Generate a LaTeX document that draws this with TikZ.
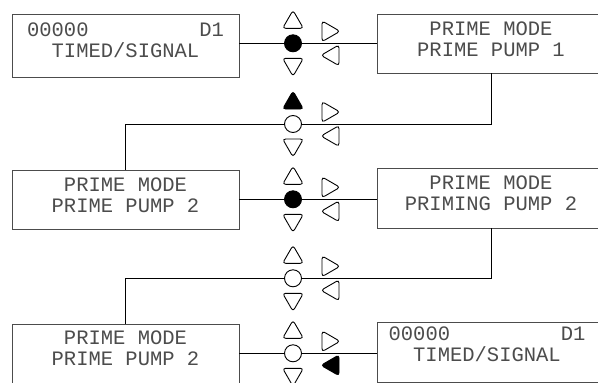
\documentclass[tikz,border=0pt]{standalone}
\usepackage{fontspec}
\setmonofont{Liberation Mono}
\usetikzlibrary{shapes.geometric}

\begin{document}
\begin{tikzpicture}[x=1pt, y=-1pt,
    lcd/.style={draw=black!70, line width=0.8pt, minimum width=227pt, minimum height=#1, inner sep=0pt},
    lcd/.default=59pt,
    lcdtext/.style={font=\ttfamily\fontsize{20.5}{21}\selectfont, text=black!70, align=center, inner sep=0pt},
    key/.style={draw, line width=0.9pt, regular polygon, regular polygon sides=3, minimum size=24pt, inner sep=0pt, rounded corners=3pt},
    sel/.style={draw, line width=0.9pt, circle, minimum size=17pt, inner sep=0pt},
    wire/.style={line width=0.8pt}]
    \useasboundingbox (0,0) rectangle (598,383);
    \clip (0,0) rectangle (598,383);

    % displays
    \node[lcd=63pt] (disp1) at (125.5,45.5) {};
    \node[lcdtext] (txt1) at (125.5,40) {\makebox[9.6em]{00000\hfill D1}\\TIMED/SIGNAL};
    \node[lcd] (disp2) at (491,43.5) {};
    \node[lcdtext] (txt2) at (491,39.3) {PRIME MODE\\PRIME PUMP 1};
    \node[lcd] (disp3) at (125.5,199.5) {};
    \node[lcdtext] (txt3) at (125.5,194.8) {PRIME MODE\\PRIME PUMP 2};
    \node[lcd=60pt] (disp4) at (491,198) {};
    \node[lcdtext] (txt4) at (491,193.3) {PRIME MODE\\PRIMING PUMP 2};
    \node[lcd=61pt] (disp5) at (125.5,354.5) {};
    \node[lcdtext] (txt5) at (125.5,348.7) {PRIME MODE\\PRIME PUMP 2};
    \node[lcd=60pt] (disp6) at (491,352) {};
    \node[lcdtext] (txt6) at (487,344.5) {\makebox[9.6em]{00000\hfill D1}\\TIMED/SIGNAL};

    % keypads
    \foreach \g/\y/\fu/\fc/\fl in {1/43.3/white/black/white, 2/124/black/white/white,
        3/199.3/white/black/white, 4/278.3/white/white/white, 5/353.3/white/white/black} {
        \node[sel, fill=\fc] (sel\g) at (293,\y) {};
        \node[key, fill=\fu] (up\g) at (293,\y-21) {};
        \node[key, shape border rotate=180] (dn\g) at (293,\y+21) {};
        \node[key, shape border rotate=-90] (rt\g) at (328,\y-12) {};
        \node[key, shape border rotate=90, fill=\fl] (lt\g) at (333,\y+12) {};
    }

    \draw[wire] (sel1 -| disp1.east) -- (sel1) (sel1) -- (sel1 -| disp2.west);
    \draw[wire] (disp2) |- (sel2);
    \draw[wire] (sel2) -| (disp3);
    \draw[wire] (sel3 -| disp3.east) -- (sel3) (sel3) -- (sel3 -| disp4.west);
    \draw[wire] (disp4) |- (sel4);
    \draw[wire] (sel4) -| (disp5);
    \draw[wire] (sel5 -| disp5.east) -- (sel5) (sel5) -- (sel5 -| disp6.west);
\end{tikzpicture}
\end{document}
